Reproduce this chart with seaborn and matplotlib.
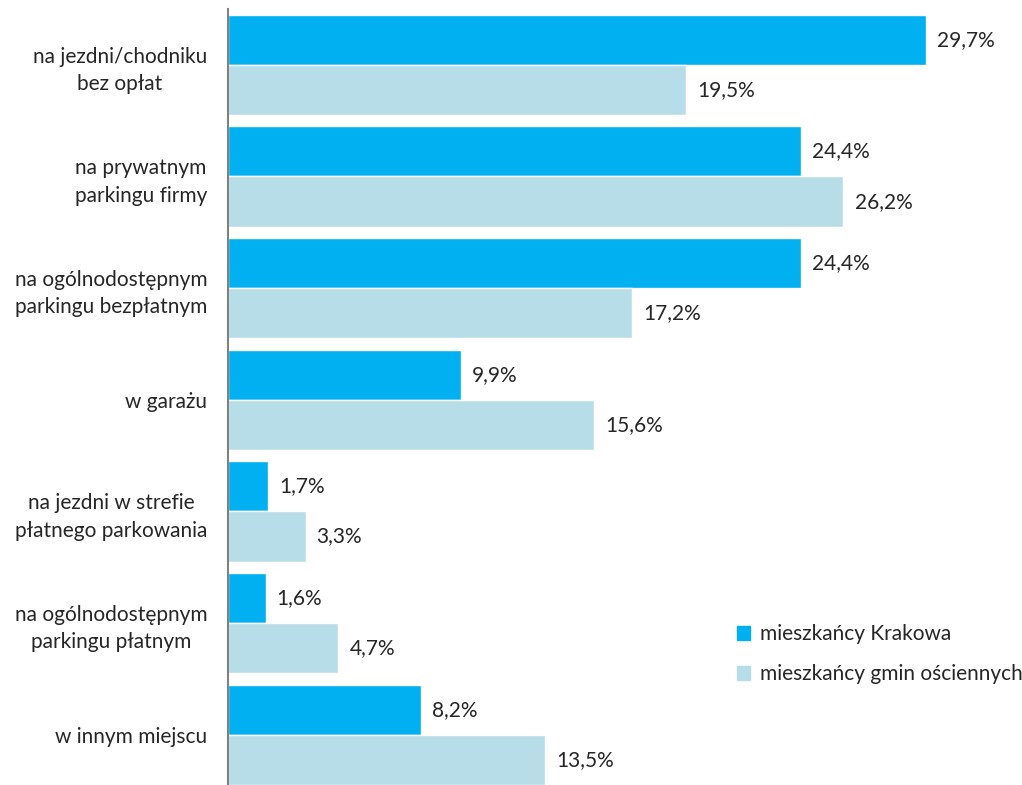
import pandas as pd
import matplotlib.pyplot as plt
import seaborn as sns
from matplotlib.patches import Patch

# dane
kategorie = ["na jezdni/chodniku\nbez opłat",
             "na prywatnym\nparkingu firmy",
             "na ogólnodostępnym\nparkingu bezpłatnym",
             "w garażu",
             "na jezdni w strefie\npłatnego parkowania",
             "na ogólnodostępnym\nparkingu płatnym",
             "w innym miejscu"]
krakow = [29.7, 24.4, 24.4, 9.9, 1.7, 1.6, 8.2]
gminy = [19.5, 26.2, 17.2, 15.6, 3.3, 4.7, 13.5]
serie = ["mieszkańcy Krakowa", "mieszkańcy gmin ościennych"]
kolory = ["#00B0F0", "#B7DEE8"]

df = pd.DataFrame({
    "miejsce": kategorie * 2,
    "procent": krakow + gminy,
    "grupa": [serie[0]] * len(kategorie) + [serie[1]] * len(kategorie),
})

sns.set_style("white")
plt.rcParams['font.family'] = ['Lato', 'DejaVu Sans']
rozmiar = 15

fig = plt.figure(figsize=(10.22, 7.85), dpi=100)
ax = fig.add_axes([228 / 1022, 0, 1 - 228 / 1022, 1 - 9 / 785])

sns.barplot(data=df, y="miejsce", x="procent", hue="grupa", orient="h",
            palette=kolory, width=0.9, ax=ax, legend=False, saturation=1)

for cont in ax.containers:
    ax.bar_label(cont, labels=[f"{v:.1f}%".replace(".", ",") for v in cont.datavalues],
                 padding=8, fontsize=rozmiar)

ax.set_xlim(0, 33.8)
ax.set_ylim(6.45, -0.5)
ax.set_xlabel("")
ax.set_ylabel("")
ax.set_xticks([])
ax.tick_params(axis="y", length=0, pad=15, labelsize=rozmiar)
for t in ax.get_yticklabels():
    t.set_multialignment("center")
    t.set_linespacing(1.45)

for s in ["top", "right", "bottom"]:
    ax.spines[s].set_visible(False)
ax.spines["left"].set_color("#808080")
ax.spines["left"].set_linewidth(1.5)

uchwyty = [Patch(color=k, label=s) for k, s in zip(kolory, serie)]
ax.legend(handles=uchwyty, loc="upper left", bbox_to_anchor=(0.641, 0.207),
          frameon=False, fontsize=rozmiar, handlelength=0.65, handleheight=0.65,
          handletextpad=0.45, labelspacing=0.95, borderaxespad=0, borderpad=0)

plt.savefig("out.png", dpi=100)
